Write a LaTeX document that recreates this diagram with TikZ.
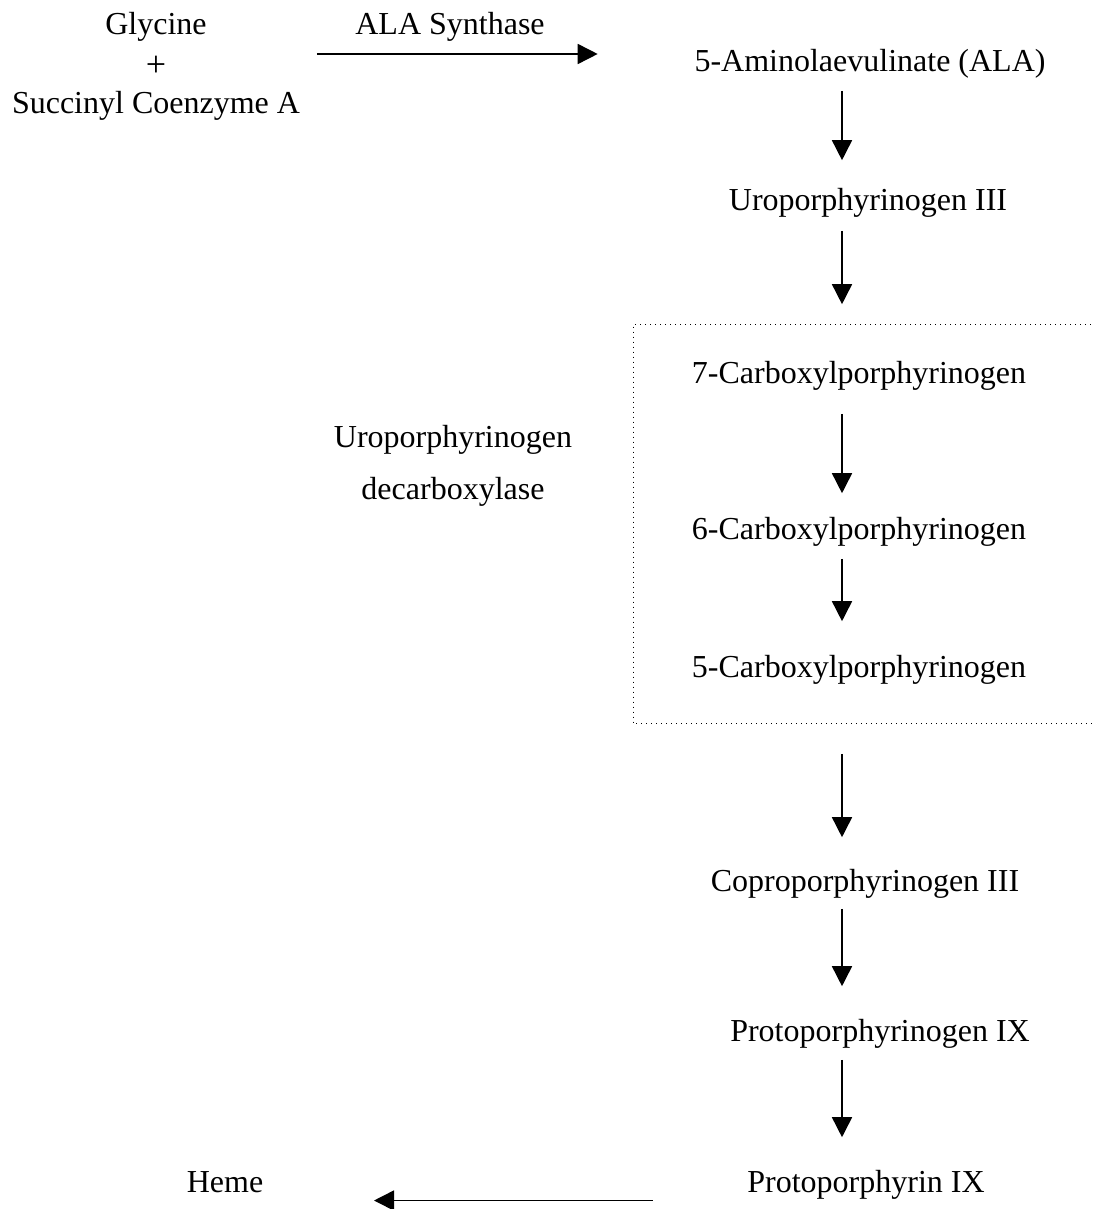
\documentclass[tikz,border=0pt]{standalone}
\usepackage{fontspec}
\setmainfont{Liberation Serif}
\usetikzlibrary{arrows.meta,positioning,fit,calc}

\begin{document}
\begin{tikzpicture}[x=0.5pt,y=-0.5pt,->,>={Triangle[length=10pt,width=10pt]},
                    line width=0.8pt,
                    every node/.style={font=\fontsize{16}{26}\selectfont},
                    chem/.style={inner sep=0pt,text height=11pt,text depth=3.5pt,anchor=base}]

 \useasboundingbox (0,0) rectangle (1094,1209);
 \coordinate (spine) at (842,0);

 % substrates
 \node[chem] (gly)  at (156,35) {Glycine};
 \node[inner sep=0pt,font=\fontsize{18}{26}\selectfont] (plus) at (156,66) {+};
 \node[chem] (scoa) at (156,114) {Succinyl Coenzyme A};
 \node[chem] (alas) at (450,35) {ALA Synthase};

 % main pathway
 \node[chem] (ala)   at (870,72)   {5-Aminolaevulinate (ALA)};
 \node[chem] (uro)   at (868,211)  {Uroporphyrinogen III};
 \node[chem] (c7)    at (859,383)  {7-Carboxylporphyrinogen};
 \node[chem] (c6)    at (859,539)  {6-Carboxylporphyrinogen};
 \node[chem] (c5)    at (859,677)  {5-Carboxylporphyrinogen};
 \node[chem] (copro) at (865,891)  {Coproporphyrinogen III};
 \node[chem] (pgen)  at (880,1041) {Protoporphyrinogen IX};
 \node[chem] (pp)    at (866,1192) {Protoporphyrin IX};
 \node[chem] (heme)  at (225,1192) {Heme};

 \node[align=center,inner sep=0pt,anchor=base] (urod) at (453,499)
      {Uroporphyrinogen\\decarboxylase};

 % decarboxylase box
 \coordinate (boxtl) at (634,325);
 \coordinate (boxbr) at (1110,723);
 \node[fit=(boxtl)(boxbr),inner sep=0pt] (box) {};
 \draw[-,dotted,line width=0.5pt] (box.north east) -- (box.north west)
       -- (box.south west) -- (box.south east);

 % arrows
 \draw[shorten <=75pt,shorten >=48pt] ([yshift=6pt]plus.east) -- ([yshift=6pt]plus.east -| ala.west);
 \draw[shorten <=5.5pt,shorten >=14pt] (ala.south -| spine)   -- (uro.north -| spine);
 \draw[shorten <=6pt,shorten >=10pt]   (uro.south -| spine)   -- (box.north -| spine);
 \draw[shorten <=11.5pt,shorten >=11.5pt] (c7.south -| spine) -- (c6.north -| spine);
 \draw[shorten <=6pt,shorten >=16.5pt] (c6.south -| spine)    -- (c5.north -| spine);
 \draw[shorten <=15pt,shorten >=15.5pt] (box.south -| spine)  -- (copro.north -| spine);
 \draw[shorten <=5pt,shorten >=16pt]   (copro.south -| spine) -- (pgen.north -| spine);
 \draw[shorten <=5.5pt,shorten >=16pt] (pgen.south -| spine)  -- (pp.north -| spine);
 \draw[shorten <=47pt,shorten >=55pt]  ([yshift=-8pt]pp.west) -- ([yshift=-8pt]heme.east);

\end{tikzpicture}
\end{document}
